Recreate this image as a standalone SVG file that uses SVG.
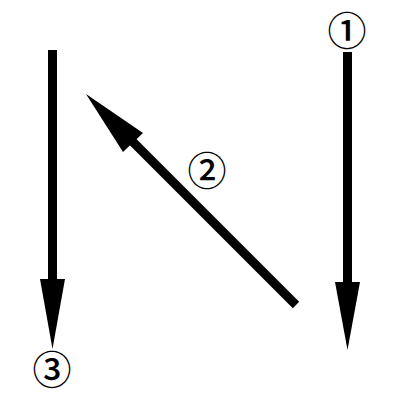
<svg xmlns="http://www.w3.org/2000/svg" width="400" height="400" viewBox="0 0 400 400">
<style>
.ln{stroke:#000;stroke-width:9;fill:none}
.hd{fill:#000;stroke:none}
.lb{font-family:"Noto Sans CJK JP",serif;font-size:39px;font-weight:500;fill:#000;text-anchor:middle;dominant-baseline:central}
</style>
<rect width="400" height="400" fill="#fff"/>
<g id="connectors">
<g id="arrow1">
<line class="ln" x1="347.5" y1="52" x2="347.5" y2="285"/>
<polygon class="hd" points="335,282 360,282 347.5,350"/>
</g>
<g id="arrow2">
<line class="ln" x1="296" y1="305" x2="130" y2="139"/>
<polygon class="hd" points="86,94 143,133 123,152"/>
</g>
<g id="arrow3">
<line class="ln" x1="52.5" y1="50" x2="52.5" y2="282"/>
<polygon class="hd" points="40,279 65,279 52.5,349"/>
</g>
</g>
<g id="label1"><text class="lb" x="347" y="28">①</text></g>
<g id="label2"><text class="lb" x="207" y="168">②</text></g>
<g id="label3"><text class="lb" x="52" y="367">③</text></g>
</svg>
